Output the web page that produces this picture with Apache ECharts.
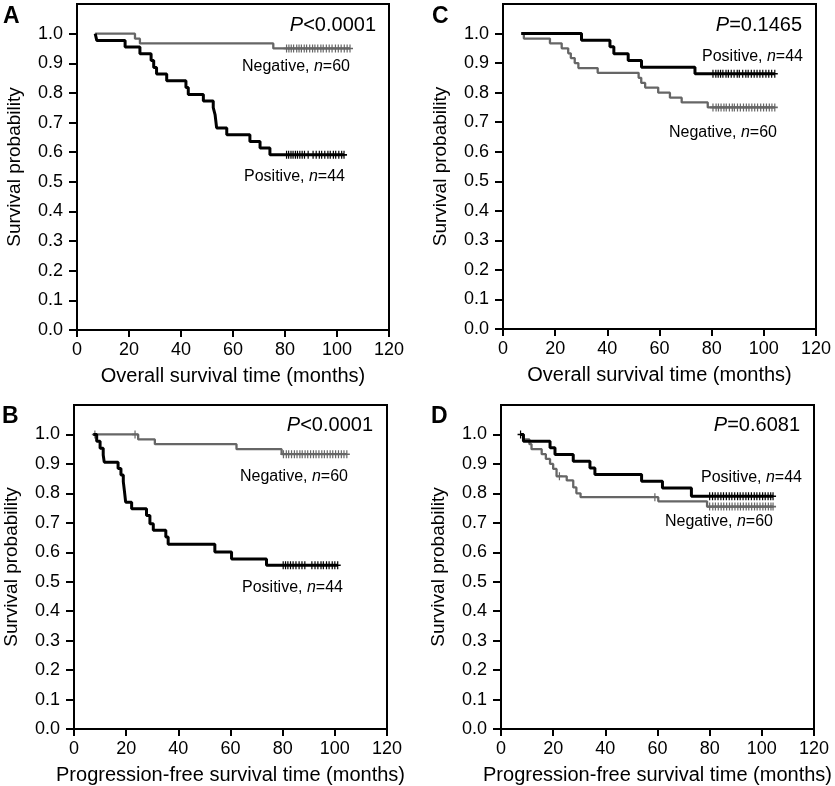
<!DOCTYPE html>
<html><head><meta charset="utf-8">
<script src="https://cdn.jsdelivr.net/npm/echarts@6/dist/echarts.min.js"></script>
<style>html,body{margin:0;padding:0;background:#fff}#c{width:835px;height:786px}</style>
</head><body><div id="c"></div>
<script>
// ---------- DATA ----------
const xTicks = [0, 20, 40, 60, 80, 100, 120];
const yTicks = [0, 0.1, 0.2, 0.3, 0.4, 0.5, 0.6, 0.7, 0.8, 0.9, 1.0];

// Panel A: overall survival
const A_pos_t = [7, 7.6, 18.5, 24.2, 28.5, 29.5, 30.6, 34.5, 41.9, 42.8, 48.6, 52.4, 53.1, 53.4, 53.7, 57.6, 66.5, 70.4, 74.2, 102.7];
const A_pos_s = [1, 0.977, 0.955, 0.932, 0.909, 0.886, 0.864, 0.841, 0.818, 0.795, 0.773, 0.750, 0.727, 0.705, 0.682, 0.659, 0.636, 0.614, 0.591, 0.591];
const A_pos_c = [80.6, 81.4, 82.3, 83.1, 84.0, 84.8, 85.7, 86.6, 87.5, 88.9, 90.8, 92.0, 93.2, 94.1, 95.3, 96.5, 97.4, 98.6, 99.5, 100.7, 101.8, 102.7];
const A_neg_t = [7, 22.3, 24.2, 75.5, 105];
const A_neg_s = [1, 0.983, 0.967, 0.950, 0.950];
const A_neg_c = [80.6, 81.5, 82.4, 83.3, 84.5, 85.4, 86.3, 87.4, 88.3, 89.5, 90.6, 91.5, 92.6, 93.8, 94.7, 95.9, 97.0, 98.1, 99.4, 100.5, 101.6, 102.8, 103.9, 105];

// Panel C: overall survival
const C_pos_t = [7, 30.1, 41.0, 42.5, 48.0, 53.1, 73.6, 104.2];
const C_pos_s = [1, 0.977, 0.955, 0.932, 0.909, 0.886, 0.864, 0.864];
const C_pos_c = [80.5, 81.6, 82.5, 83.4, 84.3, 85.5, 86.4, 87.5, 88.6, 89.8, 90.6, 91.9, 93.1, 94.0, 95.2, 96.3, 97.4, 98.5, 99.6, 100.8, 101.9, 103.0, 104.2];
const C_neg_t = [7, 8, 18, 22.5, 25, 26, 27.5, 28.9, 36.3, 52, 53, 54.5, 59.5, 64, 68.5, 78.5, 104.2];
const C_neg_s = [1, 0.983, 0.967, 0.950, 0.933, 0.917, 0.900, 0.883, 0.867, 0.850, 0.833, 0.817, 0.800, 0.783, 0.767, 0.750, 0.750];
const C_neg_c = [80.5, 81.7, 82.6, 83.6, 84.7, 85.6, 86.8, 87.9, 88.7, 89.9, 91.0, 92.2, 93.3, 94.3, 95.4, 96.5, 97.6, 98.8, 99.9, 101.0, 102.1, 103.1, 104.2];

// Panel B: progression-free survival
const B_pos_t = [7.4, 8.7, 10.0, 11.2, 11.6, 16.9, 18.0, 18.9, 19.2, 19.5, 19.8, 22.1, 27.8, 29.1, 30.4, 35.2, 36.1, 54.0, 60.4, 73.8, 101.1];
const B_pos_s = [1, 0.977, 0.953, 0.930, 0.906, 0.884, 0.862, 0.840, 0.818, 0.795, 0.770, 0.748, 0.725, 0.697, 0.675, 0.652, 0.627, 0.601, 0.577, 0.556, 0.556];
const B_pos_c = [80.2, 81.1, 82.0, 83.0, 84.0, 85.1, 86.3, 87.4, 88.5, 91.2, 92.4, 93.5, 94.7, 95.6, 96.8, 97.8, 99.0, 100.0, 101.1];
const B_neg_t = [7.4, 24.6, 31.0, 62.3, 79.6, 104.6];
const B_neg_s = [1, 0.983, 0.967, 0.950, 0.933, 0.933];
const B_neg_c = [8.0, 23.4, 80.3, 81.4, 82.3, 83.4, 84.5, 85.5, 86.6, 87.5, 88.6, 89.6, 90.7, 91.8, 92.8, 93.9, 95.0, 96.0, 97.1, 98.2, 99.2, 100.3, 101.4, 102.5, 103.5, 104.6];

// Panel D: progression-free survival
const D_pos_t = [7.3, 8.6, 18.8, 20.7, 27.7, 34.1, 36.0, 53.9, 61.9, 73.0, 104.3];
const D_pos_s = [1, 0.977, 0.955, 0.932, 0.909, 0.886, 0.864, 0.841, 0.818, 0.790, 0.790];
const D_pos_c = [7.5, 80.0, 81.1, 82.1, 83.2, 84.3, 85.3, 86.4, 87.5, 88.5, 89.6, 90.7, 91.7, 92.8, 93.9, 94.9, 96.0, 97.1, 98.1, 99.2, 100.3, 101.3, 102.4, 103.4, 104.3];
const D_neg_t = [7.3, 8.6, 10.9, 11.7, 15.6, 17.2, 18.8, 20.0, 21.3, 25.2, 27.7, 28.9, 30.5, 60.3, 79.0, 104.3];
const D_neg_s = [1, 0.983, 0.967, 0.950, 0.933, 0.917, 0.900, 0.883, 0.858, 0.844, 0.820, 0.800, 0.787, 0.773, 0.755, 0.755];
const D_neg_c = [22.4, 59.0, 80.0, 81.2, 82.2, 83.3, 84.4, 85.4, 86.5, 87.6, 88.6, 89.7, 90.8, 91.8, 92.9, 94.0, 95.0, 96.1, 97.2, 98.2, 99.3, 100.4, 101.4, 102.5, 103.5, 104.3];

const xNames = ['Overall survival time (months)', 'Overall survival time (months)',
                'Progression-free survival time (months)', 'Progression-free survival time (months)'];
const yName = 'Survival probability';
const panelLetters = ['A', 'C', 'B', 'D'];
const pTexts = ['<0.0001', '=0.1465', '<0.0001', '=0.6081'];

// ---------- BUILD ----------
const FONT = '"Liberation Sans", Arial, Helvetica, sans-serif';
const BLACK = '#000000', GRAY = '#666666';

function pairs(t, s) { return t.map((x, i) => [x, s[i]]); }
function survAt(t, s, x) { let v = s[0]; for (let i = 0; i < t.length; i++) if (t[i] <= x) v = s[i]; return v; }
function cens(t, s, c) { return c.map(x => [x, survAt(t, s, x)]); }

const grids = [
  { left: 77, top: 4, width: 312, height: 326 },
  { left: 503, top: 4, width: 313, height: 325 },
  { left: 74, top: 405, width: 313, height: 324 },
  { left: 501, top: 405, width: 313, height: 324 }
].map(g => Object.assign({ show: true, borderColor: '#000', borderWidth: 2, backgroundColor: 'transparent' }, g));

const xAxes = grids.map((g, i) => ({
  gridIndex: i, type: 'value', min: 0, max: 120, interval: 20,
  axisLine: { show: true, lineStyle: { color: '#000', width: 2 } },
  axisTick: { show: true, inside: false, length: 7, lineStyle: { color: '#000', width: 2 } },
  axisLabel: { color: '#000', fontSize: 18, fontFamily: FONT, margin: 11, customValues: xTicks },
  splitLine: { show: false },
  name: xNames[i], nameLocation: 'middle', nameGap: 36,
  nameTextStyle: { color: '#000', fontSize: 20, fontFamily: FONT }
}));
const yAxes = grids.map((g, i) => ({
  gridIndex: i, type: 'value', min: 0, max: 1.1, interval: 0.1,
  axisLine: { show: true, lineStyle: { color: '#000', width: 2 } },
  axisTick: { show: true, inside: false, length: 8, lineStyle: { color: '#000', width: 2 }, customValues: yTicks },
  axisLabel: { color: '#000', fontSize: 18, fontFamily: FONT, margin: 14, customValues: yTicks,
               formatter: v => v.toFixed(1) },
  splitLine: { show: false },
  name: yName, nameLocation: 'middle', nameGap: 53, nameRotate: 90,
  nameTextStyle: { color: '#000', fontSize: 19, fontFamily: FONT }
}));

const PLUS = 'path://M4,0h2v10h-2z M0,4h10v2h-10z';
function lineS(i, data, color, w) {
  return { type: 'line', xAxisIndex: i, yAxisIndex: i, data, step: 'end', showSymbol: false, symbol: 'none',
           lineStyle: { color, width: w }, itemStyle: { color }, silent: true, animation: false, z: color === BLACK ? 4 : 3 };
}
function censS(i, data, color) {
  return { type: 'scatter', xAxisIndex: i, yAxisIndex: i, data, symbol: PLUS, symbolSize: [6, 8],
           itemStyle: { color, opacity: 1 }, silent: true, animation: false, z: color === BLACK ? 5 : 3 };
}
const panels = [
  [A_pos_t, A_pos_s, A_pos_c, A_neg_t, A_neg_s, A_neg_c],
  [C_pos_t, C_pos_s, C_pos_c, C_neg_t, C_neg_s, C_neg_c],
  [B_pos_t, B_pos_s, B_pos_c, B_neg_t, B_neg_s, B_neg_c],
  [D_pos_t, D_pos_s, D_pos_c, D_neg_t, D_neg_s, D_neg_c]
];
const series = [];
panels.forEach((p, i) => {
  series.push(lineS(i, pairs(p[3], p[4]), GRAY, 2.3));
  series.push(censS(i, cens(p[3], p[4], p[5]), GRAY));
  series.push(lineS(i, pairs(p[0], p[1]), BLACK, 3));
  series.push(censS(i, cens(p[0], p[1], p[2]), BLACK));
});

function txt(x, y, text, size) {
  return { type: 'text', x, y, silent: true,
    style: { text, fontSize: size, fontFamily: FONT, fill: '#000',
      textAlign: 'right', align: 'right', textVerticalAlign: 'middle', verticalAlign: 'middle',
      rich: { i: { fontStyle: 'italic', fontSize: size, fontFamily: FONT, fill: '#000' },
              r: { fontSize: size, fontFamily: FONT, fill: '#000' } } } };
}
const annot = [
  { p: [376, 25], pos: [345, 177], neg: [350, 67] },
  { p: [802, 25], pos: [803, 57], neg: [777, 133] },
  { p: [373, 425], pos: [343, 588], neg: [348, 477] },
  { p: [800, 425], pos: [802, 478], neg: [773, 522] }
];
const letterPos = [[3, 5], [432, 5], [2, 405], [431, 405]];
const graphic = [];
annot.forEach((a, i) => {
  graphic.push(txt(a.p[0], a.p[1], '{i|P}{r|' + pTexts[i] + '}', 20));
  graphic.push(txt(a.pos[0], a.pos[1], '{r|Positive, }{i|n}{r|=44}', 16));
  graphic.push(txt(a.neg[0], a.neg[1], '{r|Negative, }{i|n}{r|=60}', 16));
  graphic.push({ type: 'text', x: letterPos[i][0], y: letterPos[i][1], silent: true,
    style: { text: panelLetters[i], fontSize: 23, fontWeight: 'bold', fontFamily: FONT, fill: '#000',
             textAlign: 'left', align: 'left', textVerticalAlign: 'top', verticalAlign: 'top' } });
});

const chart = echarts.init(document.getElementById('c'), null, { renderer: 'canvas' });
chart.setOption({
  backgroundColor: '#fff', animation: false,
  grid: grids, xAxis: xAxes, yAxis: yAxes, series, graphic
});
</script></body></html>
